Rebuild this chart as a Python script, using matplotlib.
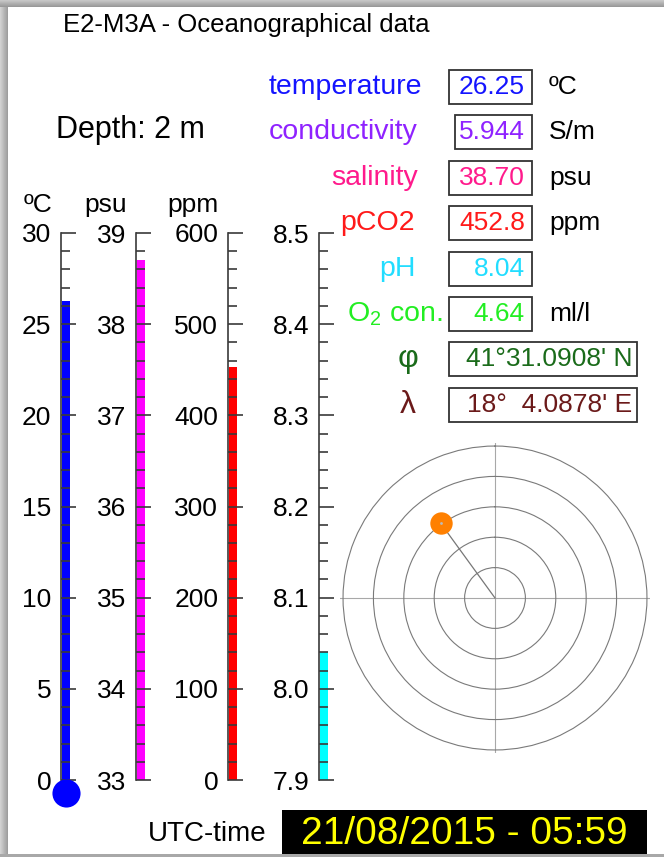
import numpy as np
import matplotlib
matplotlib.use("Agg")
import matplotlib.pyplot as plt
from matplotlib.patches import Rectangle

plt.rcParams['font.family'] = ['Liberation Sans', 'DejaVu Sans']
plt.rcParams['mathtext.fontset'] = 'custom'
plt.rcParams['mathtext.rm'] = 'Liberation Sans'

W, H = 664, 857

# station readings
station = 'E2-M3A'
depth_m = 2
utc_time = '21/08/2015 - 05:59'

# gauge columns: temperature, salinity, pCO2, pH
gauge_units = ['ºC', 'psu', 'ppm', '']
gauge_min = [0, 33, 0, 7.9]
gauge_max = [30, 39, 600, 8.5]
gauge_major = [5, 1, 100, 0.1]
gauge_minor = [1, 0.2, 20, 0.02]
gauge_fmt = ['{:.0f}', '{:.0f}', '{:.0f}', '{:.1f}']
gauge_values = [26.25, 38.70, 452.8, 8.04]
gauge_colors = ['#0000ff', '#ff00ff', '#ff0000', '#00ffff']
gauge_x = [61, 136, 228, 319]

# readout panel
panel_labels = ['temperature', 'conductivity', 'salinity', 'pCO2', 'pH',
                r'O$_{\mathregular{2}}$ con.']
panel_values = ['26.25', '5.944', '38.70', '452.8', '8.04', '4.64']
panel_units = ['ºC', 'S/m', 'psu', 'ppm', '', 'ml/l']
panel_colors = ['#1414ff', '#8f22ff', '#ff1a8c', '#ff1a1a', '#22ddff', '#22ee22']
lat_text = "41°31.0908' N"
lon_text = "18°  4.0878' E"

# current: ring units (0-5) and bearing in degrees
current_r = 3.05
current_dir = 324

fig = plt.figure(figsize=(W / 100, H / 100), dpi=100)
fig.patch.set_facecolor('white')

bg = fig.add_axes([0, 0, 1, 1])
bg.set_xlim(0, W)
bg.set_ylim(H, 0)
bg.axis('off')

# window frame shading
top = np.linspace(0.78, 0.6, 8).reshape(-1, 1)
bg.imshow(top, cmap='gray', vmin=0, vmax=1, extent=(0, W, 7, 0), aspect='auto')
left = np.linspace(0.82, 0.62, 8).reshape(1, -1)
bg.imshow(left, cmap='gray', vmin=0, vmax=1, extent=(0, 8, H, 7), aspect='auto')
bg.add_patch(Rectangle((0, 854), W, 3, color='#a8a8a8', lw=0))
bg.set_xlim(0, W)
bg.set_ylim(H, 0)

bg.text(246, 25, f'{station} - Oceanographical data', fontsize=18.5,
        ha='center', va='center')
bg.text(130, 130, f'Depth: {depth_m} m', fontsize=22, ha='center', va='center')

# gauges
for i in range(4):
    ax = fig.add_axes([gauge_x[i] / W, 1 - 780 / H, 20 / W, 547 / H])
    ax.set_facecolor('none')
    ax.set_xlim(0, 1)
    ax.set_ylim(gauge_min[i], gauge_max[i])
    ax.bar(0.05, gauge_values[i] - gauge_min[i], bottom=gauge_min[i],
           width=0.4, align='edge', color=gauge_colors[i], lw=0)
    for s in ['top', 'right', 'bottom']:
        ax.spines[s].set_visible(False)
    ax.spines['left'].set_color('#3a3a3a')
    ax.spines['left'].set_linewidth(1.2)
    major = np.arange(gauge_min[i], gauge_max[i] + 1e-9, gauge_major[i])
    minor = np.arange(gauge_min[i], gauge_max[i] + 1e-9, gauge_minor[i])
    ax.set_yticks(major)
    ax.set_yticklabels([gauge_fmt[i].format(v) for v in major])
    ax.set_yticks(minor, minor=True)
    ax.set_xticks([])
    ax.tick_params(axis='y', which='major', direction='in', length=11,
                   width=1.2, color='#3a3a3a', pad=7, labelsize=19)
    ax.tick_params(axis='y', which='minor', direction='in', length=6.5,
                   width=1.2, color='#3a3a3a')
    if gauge_units[i]:
        bg.text(gauge_x[i] - 9, 212, gauge_units[i], fontsize=19,
                ha='right', va='baseline')
    if i == 0:
        # thermometer bulb
        ax.scatter([0.25], [-0.69], s=410, color=gauge_colors[i],
                   clip_on=False, zorder=5, lw=0)

# readout boxes
row_y = [87, 132, 178, 223, 269, 314, 359, 405]
box_left = [449, 455, 449, 449, 449, 449]
label_right = [422, 418, 418, 415, 416, 443]
for i in range(6):
    y = row_y[i]
    bg.add_patch(Rectangle((box_left[i], y - 17), 532 - box_left[i], 34,
                           fill=False, ec='#333333', lw=1.3))
    bg.text(label_right[i], y, panel_labels[i], fontsize=20.5,
            color=panel_colors[i], ha='right', va='center')
    bg.text(525, y, panel_values[i], fontsize=19, color=panel_colors[i],
            ha='right', va='center')
    if panel_units[i]:
        bg.text(549, y, panel_units[i], fontsize=19, ha='left', va='center')

for y, sym, txt, col in [(row_y[6], 'φ', lat_text, '#1a6b1a'),
                         (row_y[7], 'λ', lon_text, '#6b1a1a')]:
    bg.add_patch(Rectangle((449, y - 17), 188, 34, fill=False,
                           ec='#333333', lw=1.3))
    bg.text(408, y, sym, fontsize=23, color=col, ha='center', va='center')
    bg.text(632, y, txt, fontsize=19, color=col, ha='right', va='center')

# current rose
pol = fig.add_axes([340 / W, 1 - 753 / H, 310 / W, 310 / H], projection='polar')
pol.set_facecolor('none')
pol.set_theta_zero_location('N')
pol.set_theta_direction(-1)
pol.set_rlim(0, 5.1)
pol.set_rgrids([1, 2, 3, 4, 5], labels=[])
pol.set_thetagrids([0, 90, 180, 270], labels=[])
pol.spines['polar'].set_visible(False)
pol.yaxis.grid(True, color='#7a7a7a', lw=0.8)
pol.xaxis.grid(True, color='#a8a8a8', lw=0.8)
th = np.deg2rad(current_dir)
pol.plot([0, th], [0, current_r], color='#777777', lw=0.9)
pol.scatter([th], [current_r], s=260, color='#ff8000', lw=0, zorder=5)
pol.scatter([th], [current_r], s=4, color='#bbbbbb', lw=0, zorder=6)

# time stamp
bg.text(207, 834, 'UTC-time', fontsize=20, ha='center', va='center')
bg.add_patch(Rectangle((282, 810), 365, 44, color='black', lw=0))
bg.text(464, 834, utc_time, fontsize=28, color='#ffff00', ha='center',
        va='center')

fig.savefig('out.png', dpi=100)
